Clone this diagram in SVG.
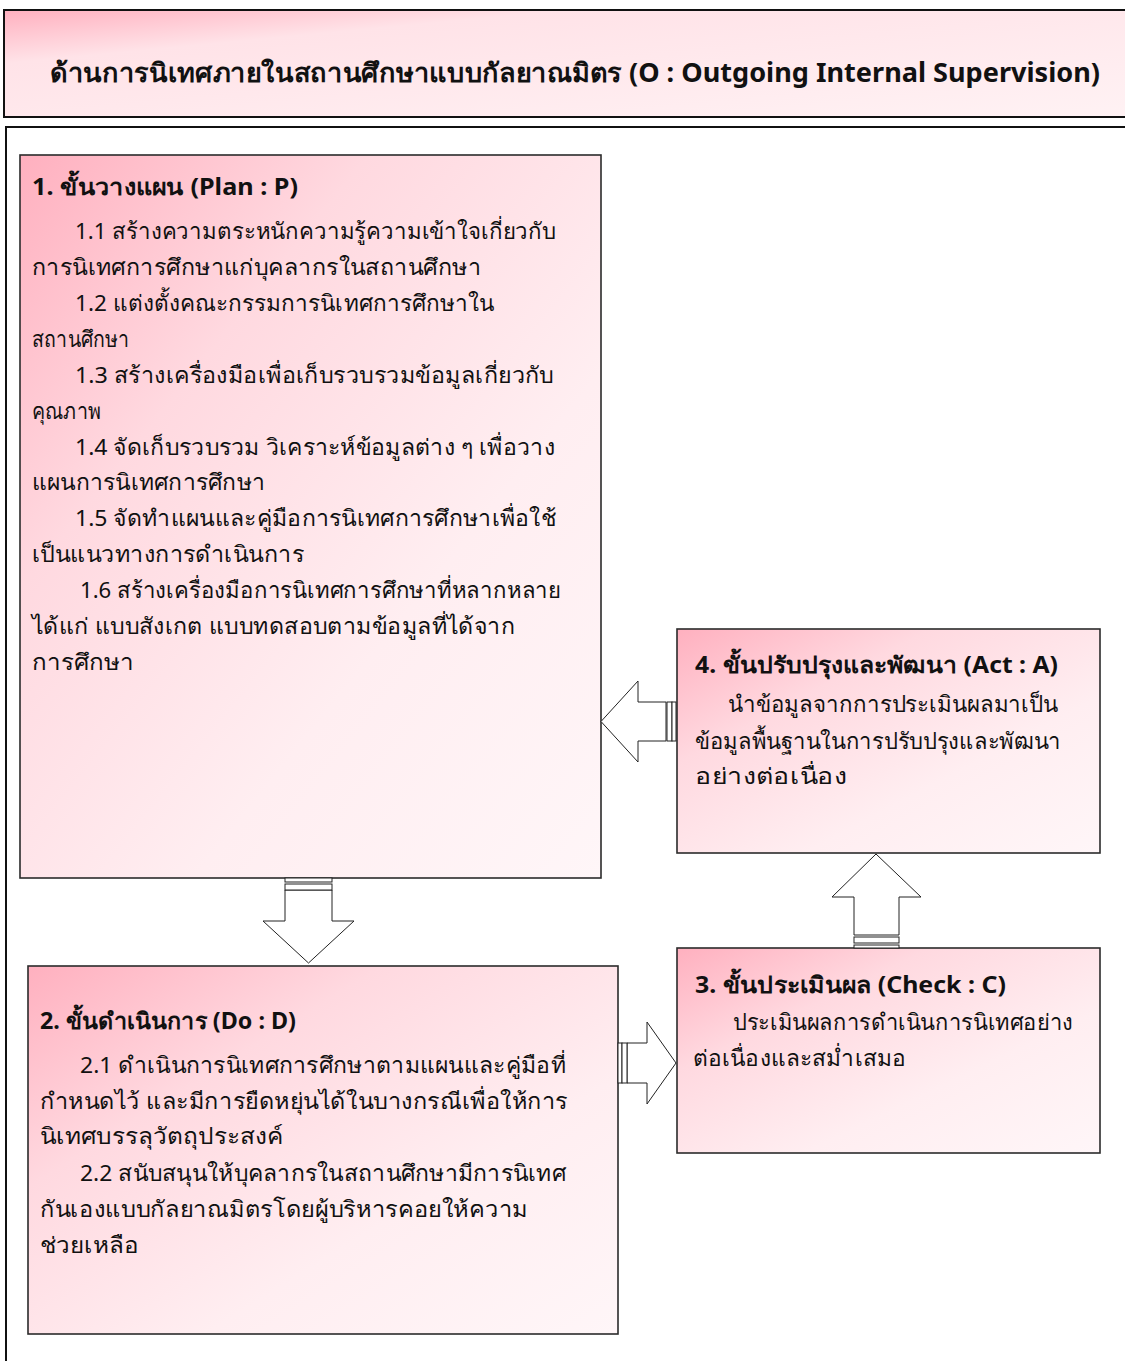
<svg xmlns="http://www.w3.org/2000/svg" width="1125" height="1361" viewBox="0 0 1125 1361">
<defs>
<linearGradient id="pink" x1="0" y1="0" x2="1" y2="1">
<stop offset="0" stop-color="#ffb0bf"/>
<stop offset="0.3" stop-color="#ffd9e0"/>
<stop offset="0.65" stop-color="#ffeef1"/>
<stop offset="1" stop-color="#fff6f8"/>
</linearGradient>
<linearGradient id="pinkTitle" x1="0" y1="0" x2="1" y2="1">
<stop offset="0" stop-color="#ffb0bf"/>
<stop offset="0.25" stop-color="#ffe3e8"/>
<stop offset="1" stop-color="#fff2f4"/>
</linearGradient>
<style>
.box{stroke:#2b2b2b;stroke-width:1.6;}
.t{font-family:"Noto Sans","DejaVu Sans",sans-serif;font-size:22.5px;fill:#111;}
.h{font-weight:bold;font-size:23px;}
.title{font-family:"Noto Sans","DejaVu Sans",sans-serif;font-size:26px;font-weight:bold;fill:#111;}
.arrow{fill:#fff;stroke:#222;stroke-width:1;}
</style>
</defs>
<rect width="1125" height="1361" fill="#fff"/>
<g id="title">
<rect x="4" y="10" width="1130" height="107" fill="url(#pinkTitle)" stroke="#111" stroke-width="2"/>
<text class="title" x="50" y="82" textLength="1050" lengthAdjust="spacingAndGlyphs">ด้านการนิเทศภายในสถานศึกษาแบบกัลยาณมิตร (O : Outgoing Internal Supervision)</text>
</g>
<g id="frame">
<path d="M6,1365 V127 H1130" fill="none" stroke="#111" stroke-width="2"/>
</g>
<g id="plan">
<rect class="box" x="20" y="155" width="581" height="723" fill="url(#pink)"/>
<text class="t h" x="32" y="195" textLength="266" lengthAdjust="spacingAndGlyphs">1. ขั้นวางแผน (Plan : P)</text>
<text class="t" x="75" y="239" textLength="481" lengthAdjust="spacingAndGlyphs">1.1 สร้างความตระหนักความรู้ความเข้าใจเกี่ยวกับ</text>
<text class="t" x="32" y="275" textLength="449" lengthAdjust="spacingAndGlyphs">การนิเทศการศึกษาแก่บุคลากรในสถานศึกษา</text>
<text class="t" x="75" y="311" textLength="419" lengthAdjust="spacingAndGlyphs">1.2 แต่งตั้งคณะกรรมการนิเทศการศึกษาใน</text>
<text class="t" x="32" y="347" textLength="97" lengthAdjust="spacingAndGlyphs">สถานศึกษา</text>
<text class="t" x="75" y="383" textLength="479" lengthAdjust="spacingAndGlyphs">1.3 สร้างเครื่องมือเพื่อเก็บรวบรวมข้อมูลเกี่ยวกับ</text>
<text class="t" x="32" y="419" textLength="69" lengthAdjust="spacingAndGlyphs">คุณภาพ</text>
<text class="t" x="75" y="455" textLength="480" lengthAdjust="spacingAndGlyphs">1.4 จัดเก็บรวบรวม วิเคราะห์ข้อมูลต่าง ๆ เพื่อวาง</text>
<text class="t" x="32" y="490" textLength="233" lengthAdjust="spacingAndGlyphs">แผนการนิเทศการศึกษา</text>
<text class="t" x="75" y="526" textLength="481" lengthAdjust="spacingAndGlyphs">1.5 จัดทำแผนและคู่มือการนิเทศการศึกษาเพื่อใช้</text>
<text class="t" x="32" y="562" textLength="272" lengthAdjust="spacingAndGlyphs">เป็นแนวทางการดำเนินการ</text>
<text class="t" x="80" y="598" textLength="481" lengthAdjust="spacingAndGlyphs">1.6 สร้างเครื่องมือการนิเทศการศึกษาที่หลากหลาย</text>
<text class="t" x="32" y="634" textLength="483" lengthAdjust="spacingAndGlyphs">ได้แก่ แบบสังเกต แบบทดสอบตามข้อมูลที่ได้จาก</text>
<text class="t" x="32" y="670" textLength="102" lengthAdjust="spacingAndGlyphs">การศึกษา</text>
</g>
<g id="do">
<rect class="box" x="28" y="966" width="590" height="368" fill="url(#pink)"/>
<text class="t h" x="40" y="1029" textLength="256" lengthAdjust="spacingAndGlyphs">2. ขั้นดำเนินการ (Do : D)</text>
<text class="t" x="80" y="1073" textLength="486" lengthAdjust="spacingAndGlyphs">2.1 ดำเนินการนิเทศการศึกษาตามแผนและคู่มือที่</text>
<text class="t" x="40" y="1109" textLength="528" lengthAdjust="spacingAndGlyphs">กำหนดไว้ และมีการยืดหยุ่นได้ในบางกรณีเพื่อให้การ</text>
<text class="t" x="40" y="1144" textLength="243" lengthAdjust="spacingAndGlyphs">นิเทศบรรลุวัตถุประสงค์</text>
<text class="t" x="80" y="1181" textLength="486" lengthAdjust="spacingAndGlyphs">2.2 สนับสนุนให้บุคลากรในสถานศึกษามีการนิเทศ</text>
<text class="t" x="40" y="1217" textLength="488" lengthAdjust="spacingAndGlyphs">กันเองแบบกัลยาณมิตรโดยผู้บริหารคอยให้ความ</text>
<text class="t" x="40" y="1253" textLength="99" lengthAdjust="spacingAndGlyphs">ช่วยเหลือ</text>
</g>
<g id="check">
<rect class="box" x="677" y="948" width="423" height="205" fill="url(#pink)"/>
<text class="t h" x="695" y="993" textLength="311" lengthAdjust="spacingAndGlyphs">3. ขั้นประเมินผล (Check : C)</text>
<text class="t" x="733" y="1030" textLength="340" lengthAdjust="spacingAndGlyphs">ประเมินผลการดำเนินการนิเทศอย่าง</text>
<text class="t" x="693" y="1066" textLength="213" lengthAdjust="spacingAndGlyphs">ต่อเนื่องและสม่ำเสมอ</text>
</g>
<g id="act">
<rect class="box" x="677" y="629" width="423" height="224" fill="url(#pink)"/>
<text class="t h" x="695" y="673" textLength="363" lengthAdjust="spacingAndGlyphs">4. ขั้นปรับปรุงและพัฒนา (Act : A)</text>
<text class="t" x="728" y="712" textLength="330" lengthAdjust="spacingAndGlyphs">นำข้อมูลจากการประเมินผลมาเป็น</text>
<text class="t" x="695" y="749" textLength="366" lengthAdjust="spacingAndGlyphs">ข้อมูลพื้นฐานในการปรับปรุงและพัฒนา</text>
<text class="t" x="695" y="784" textLength="152" lengthAdjust="spacingAndGlyphs">อย่างต่อเนื่อง</text>
</g>
<g id="connectors">
<g id="plan-to-do">
<polygon class="arrow" points="285,890 332,890 332,921 354,921 308.5,963 263,921 285,921"/>
<rect class="arrow" x="285" y="878" width="47" height="4"/>
<rect class="arrow" x="285" y="884" width="47" height="6"/>
</g>
<g id="do-to-check">
<polygon class="arrow" points="627,1043 647,1043 647,1022 676,1063 647,1104 647,1083 627,1083"/>
<rect class="arrow" x="618" y="1043" width="4" height="40"/>
<rect class="arrow" x="622" y="1043" width="5" height="40"/>
</g>
<g id="check-to-act">
<polygon class="arrow" points="854,935 854,897 832,897 876,854 921,897 899,897 899,935"/>
<rect class="arrow" x="854" y="937" width="45" height="6"/>
<rect class="arrow" x="854" y="945" width="45" height="3"/>
</g>
<g id="act-to-plan">
<polygon class="arrow" points="666,702 638,702 638,681 601,721.5 638,762 638,741 666,741"/>
<rect class="arrow" x="667" y="702" width="5" height="39"/>
<rect class="arrow" x="672" y="702" width="4" height="39"/>
</g>
</g>
</svg>
